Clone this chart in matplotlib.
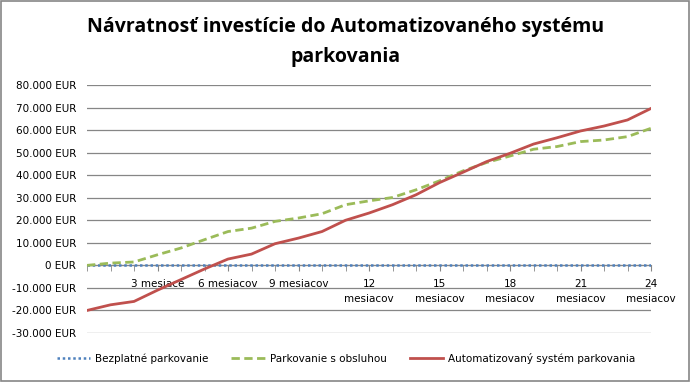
import numpy as np
import matplotlib
import matplotlib.pyplot as plt
from matplotlib.patches import Rectangle
from matplotlib.ticker import FuncFormatter

matplotlib.rcParams['font.family'] = ['DejaVu Sans']

# data (EUR), months 0..24
months = list(range(25))
bezplatne = [0] * 25
obsluha = [0, 1000, 1500, 4700, 7700, 11400, 15000, 16500, 19500, 21000, 22900,
           26900, 28600, 30100, 33500, 37500, 41900, 45600, 48500, 51500, 52700,
           54900, 55600, 57100, 60800]
automat = [-20000, -17500, -16000, -11000, -6300, -1600, 2800, 5000, 9600, 12100,
           15000, 20000, 23200, 26900, 31300, 36700, 41300, 46000, 49700, 53800,
           56600, 59600, 61800, 64500, 69600]
tick_months = [3, 6, 9, 12, 15, 18, 21, 24]
tick_labels = ['3 mesiace', '6 mesiacov', '9 mesiacov', '12\nmesiacov', '15\nmesiacov',
               '18\nmesiacov', '21\nmesiacov', '24\nmesiacov']

W, H = 692, 382
fig = plt.figure(figsize=(W / 100, H / 100), dpi=100)
ax = fig.add_axes([87 / W, 1 - 333 / H, (651 - 87) / W, (333 - 85) / H])

grid_c = '#868686'
for v in range(-30000, 80001, 10000):
    ax.axhline(v, color=grid_c, lw=0.9, zorder=1)

ax.plot(months, bezplatne, color='#4F81BD', lw=1.8, ls=(0, (1, 1.1)), zorder=3,
        label='Bezplatné parkovanie')
ax.plot(months, obsluha, color='#9BBB59', lw=2.0, ls=(0, (3, 1.6)), zorder=3,
        label='Parkovanie s obsluhou')
ax.plot(months, automat, color='#C0504D', lw=2.0, zorder=4,
        label='Automatizovaný systém parkovania')

ax.set_xlim(0, 24)
ax.set_ylim(-30000, 80000)
ax.set_yticks(range(-30000, 80001, 10000))
ax.yaxis.set_major_formatter(FuncFormatter(lambda v, p: f'{int(v):,} EUR'.replace(',', '.')))
ax.tick_params(axis='y', length=0, labelsize=7.5, pad=8, labelcolor='#000000')

ax.spines[['top', 'right', 'left']].set_visible(False)
ax.spines['bottom'].set_position(('data', 0))
ax.spines['bottom'].set_color(grid_c)
ax.set_xticks(months, minor=True)
ax.set_xticks(tick_months)
ax.set_xticklabels(tick_labels, fontsize=7.5, va='top', linespacing=1.6)
ax.tick_params(axis='x', which='both', direction='out', length=4, color=grid_c, pad=6)

fig.text(0.5, 1 - 42 / H, 'Návratnosť investície do Automatizovaného systému\nparkovania',
         ha='center', va='center', fontsize=14, fontweight='bold',
         family='Open Sans', linespacing=1.65)

fig.legend(loc='center', bbox_to_anchor=(0.5, 1 - 358 / H), ncol=3, frameon=False,
           fontsize=7.5, handlelength=3.2, handletextpad=0.5, columnspacing=2.2)

fig.patches.append(Rectangle((1 / W, 1 / H), 688 / W, 380 / H, transform=fig.transFigure,
                             fill=False, edgecolor=grid_c, lw=1.2))

fig.savefig('out.png', dpi=100)
